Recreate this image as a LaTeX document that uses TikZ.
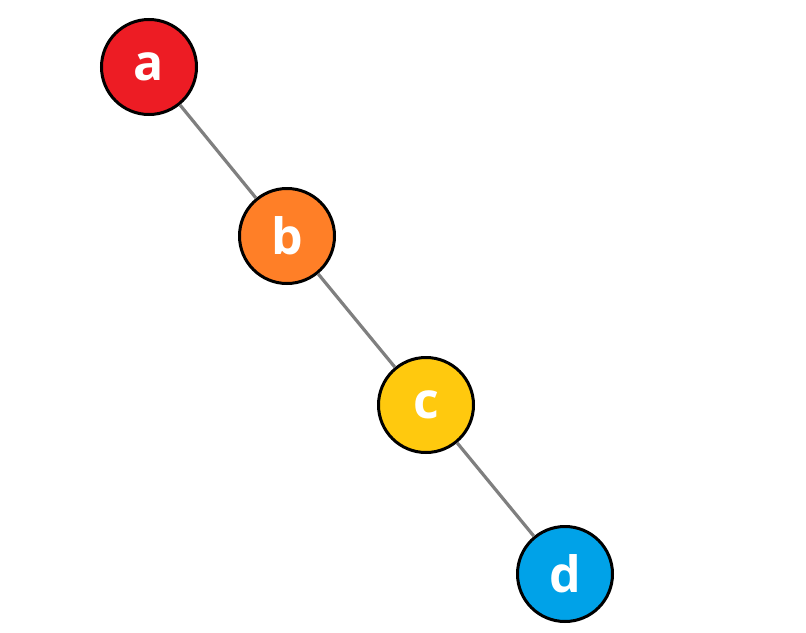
\documentclass[tikz,border=0pt]{standalone}
\usepackage{fontspec}
\setmainfont{Open Sans}
\definecolor{cred}{HTML}{ED1C24}
\definecolor{corange}{HTML}{FF7F27}
\definecolor{cyellow}{HTML}{FFC90E}
\definecolor{cblue}{HTML}{00A2E8}
\definecolor{cline}{HTML}{7F7F7F}
\begin{document}
\begin{tikzpicture}[x=1pt,y=-1pt,
  vert/.style={circle,draw=black,line width=3pt,minimum size=95pt,inner sep=0pt,
    text=white,font=\fontsize{50}{50}\selectfont\bfseries},
  edge/.style={draw=cline,line width=3.2pt}]
\useasboundingbox (0,0) rectangle (806,632);
\node[vert,fill=cred] (a) at (149,67) {a};
\node[vert,fill=corange] (b) at (287,236) {b};
\node[vert,fill=cyellow] (c) at (426,405) {c};
\node[vert,fill=cblue] (d) at (565,574) {d};
\draw[edge] (a) -- (b);
\draw[edge] (b) -- (c);
\draw[edge] (c) -- (d);
\end{tikzpicture}
\end{document}
